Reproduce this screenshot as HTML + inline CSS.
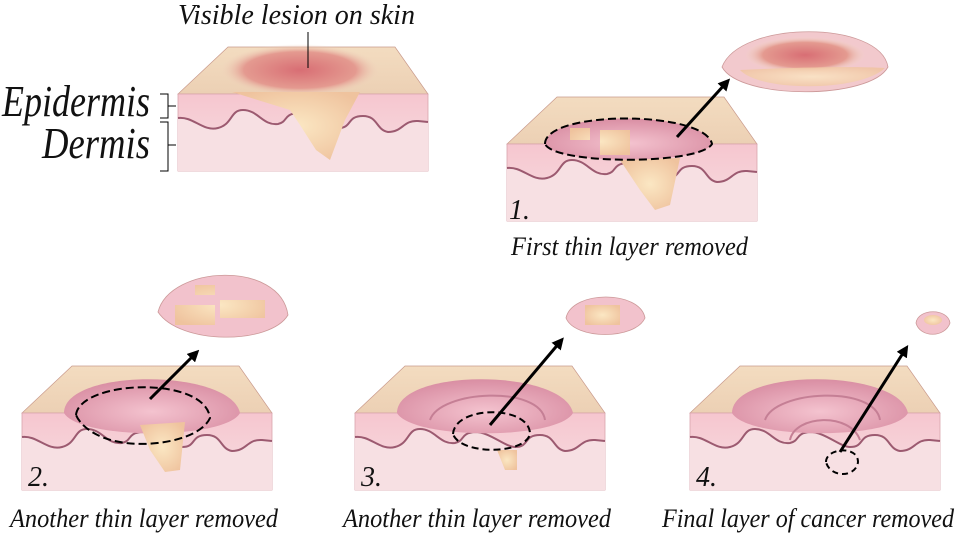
<!DOCTYPE html>
<html><head><meta charset="utf-8"><style>
html,body{margin:0;padding:0;background:#fff}
svg{display:block}
text{font-family:"Liberation Serif",serif;font-style:italic;fill:#111}
</style></head><body>
<svg width="956" height="533" viewBox="0 0 956 533" xmlns="http://www.w3.org/2000/svg">
<defs>
<linearGradient id="top" x1="0" y1="0" x2="0" y2="1"><stop offset="0" stop-color="#f3dcc0"/><stop offset="1" stop-color="#ecd0b4"/></linearGradient>
<linearGradient id="front" x1="0" y1="0" x2="0" y2="1"><stop offset="0" stop-color="#f6c6cf"/><stop offset="1" stop-color="#f6dfe2"/></linearGradient>
<radialGradient id="crater" cx="0.5" cy="0.6" r="0.6"><stop offset="0" stop-color="#f4c3cf"/><stop offset="1" stop-color="#d98ea3"/></radialGradient>
<radialGradient id="cancer" cx="0.5" cy="0.5" r="0.6"><stop offset="0" stop-color="#fbe7c3"/><stop offset="1" stop-color="#efc39e"/></radialGradient>
<radialGradient id="lesion" cx="0.5" cy="0.5" r="0.5"><stop offset="0" stop-color="#d86e74"/><stop offset="0.7" stop-color="#e49a90"/><stop offset="1" stop-color="#f0d6bf" stop-opacity="0"/></radialGradient>
<g id="block">
 <path d="M50,-47 L217,-47 L250,0 L0,0 Z" fill="url(#top)" stroke="#c99a8c" stroke-width="0.7"/>
 <rect x="0" y="0" width="250" height="77" fill="url(#front)" stroke="#d9a5ad" stroke-width="0.8"/>
 <path d="M0,24 C15,22 25,38 40,34 C55,30 52,16 65,16 C80,16 85,32 100,30 C110,28 105,20 120,19 C135,19 150,34 160,34 C175,34 168,22 185,22 C200,22 198,36 210,38 C225,38 225,26 240,27 L250,28 L250,77 L0,77 Z" fill="#f7e0e3"/>
 <path d="M0,24 C15,22 25,38 40,34 C55,30 52,16 65,16 C80,16 85,32 100,30 C110,28 105,20 120,19 C135,19 150,34 160,34 C175,34 168,22 185,22 C200,22 198,36 210,38 C225,38 225,26 240,27 L250,28" fill="none" stroke="#9c5a70" stroke-width="2"/>
</g>
<marker id="ah" markerWidth="12" markerHeight="12" refX="6" refY="6" orient="auto" markerUnits="userSpaceOnUse"><path d="M0,0 L12,6 L0,12 Z" fill="#000"/></marker>
</defs>

<!-- top block -->
<use href="#block" x="178" y="94"/>
<ellipse cx="300" cy="70" rx="80" ry="26" fill="url(#lesion)"/>
<path d="M232,92 L360,92 L345,120 L330,160 L316,150 L300,125 L290,110 Z" fill="url(#cancer)"/>
<line x1="308" y1="32" x2="308" y2="68" stroke="#000" stroke-width="1"/>
<text x="178" y="24" font-size="28" textLength="237" lengthAdjust="spacingAndGlyphs">Visible lesion on skin</text>
<text x="2" y="116" font-size="44" textLength="148" lengthAdjust="spacingAndGlyphs">Epidermis</text>
<text x="42" y="158" font-size="44" textLength="108" lengthAdjust="spacingAndGlyphs">Dermis</text>
<path d="M160,94 h8 v24 h-8 M168,106 h8" fill="none" stroke="#000" stroke-width="1"/>
<path d="M160,122 h8 v49 h-8 M168,145 h8" fill="none" stroke="#000" stroke-width="1"/>

<!-- step 1 -->
<use href="#block" x="507" y="144"/>
<path d="M545,144 C545,110 705,110 712,144 C700,165 555,165 545,144 Z" fill="url(#crater)"/>
<path d="M620,160 L680,158 L670,205 L655,210 L640,190 Z" fill="url(#cancer)"/>
<path d="M570,128 h20 v12 h-20z M600,130 h30 v25 h-30z" fill="url(#cancer)"/>
<path d="M545,144 C545,110 705,110 712,144 C700,165 555,165 545,144 Z" fill="none" stroke="#000" stroke-width="2" stroke-dasharray="8,4"/>
<line x1="677" y1="137" x2="726" y2="83" stroke="#000" stroke-width="3" marker-end="url(#ah)"/>
<path d="M722,67 C740,20 880,20 888,67 C870,100 740,100 722,67 Z" fill="#f2c9cd" stroke="#c99" stroke-width="0.8"/>
<ellipse cx="805" cy="55" rx="60" ry="18" fill="url(#lesion)"/>
<path d="M740,70 C780,68 850,66 885,68 C860,92 760,92 740,70 Z" fill="url(#cancer)" opacity="0.8"/>
<text x="509" y="219" font-size="28">1.</text>
<text x="511" y="255" font-size="26" textLength="237" lengthAdjust="spacingAndGlyphs">First thin layer removed</text>

<!-- step 2 -->
<use href="#block" x="22" y="413"/>
<path d="M64,413 C64,368 230,368 240,413 C225,440 80,440 64,413 Z" fill="url(#crater)"/>
<path d="M140,425 L185,422 L180,470 L165,472 L150,450 Z" fill="url(#cancer)"/>
<path d="M76,415 C80,380 205,375 210,418 C200,440 150,448 120,442 C95,438 80,425 76,415 Z" fill="none" stroke="#000" stroke-width="2" stroke-dasharray="8,4"/>
<line x1="150" y1="399" x2="195" y2="354" stroke="#000" stroke-width="3" marker-end="url(#ah)"/>
<path d="M158,312 C170,265 280,260 288,315 C270,345 180,345 158,312 Z" fill="#f2c2cc" stroke="#c99" stroke-width="0.8"/>
<path d="M175,305 h40 v20 h-40z M220,300 h45 v18 h-45z M195,285 h20 v10 h-20z" fill="url(#cancer)"/>
<text x="28" y="486" font-size="28">2.</text>
<text x="10" y="527" font-size="26" textLength="268" lengthAdjust="spacingAndGlyphs">Another thin layer removed</text>

<!-- step 3 -->
<use href="#block" x="355" y="413"/>
<path d="M397,413 C397,368 563,368 573,413 C558,440 413,440 397,413 Z" fill="url(#crater)"/>
<path d="M430,420 C440,390 540,385 545,420" fill="none" stroke="#c57f95" stroke-width="2"/>
<path d="M497,450 h20 v20 h-12z" fill="url(#cancer)"/>
<path d="M453,434 C455,405 530,405 530,434 C525,455 460,455 453,434 Z" fill="none" stroke="#000" stroke-width="2" stroke-dasharray="7,4"/>
<line x1="490" y1="425" x2="560" y2="342" stroke="#000" stroke-width="3" marker-end="url(#ah)"/>
<path d="M566,318 C572,290 640,290 645,318 C635,340 575,340 566,318 Z" fill="#f2c2cc" stroke="#c99" stroke-width="0.8"/>
<path d="M585,305 h35 v20 h-35z" fill="url(#cancer)"/>
<text x="361" y="486" font-size="28">3.</text>
<text x="343" y="527" font-size="26" textLength="268" lengthAdjust="spacingAndGlyphs">Another thin layer removed</text>

<!-- step 4 -->
<use href="#block" x="690" y="413"/>
<path d="M732,413 C732,368 898,368 908,413 C893,440 748,440 732,413 Z" fill="url(#crater)"/>
<path d="M765,420 C775,390 875,385 880,420" fill="none" stroke="#c57f95" stroke-width="2"/>
<path d="M790,440 C795,415 850,412 860,440" fill="none" stroke="#c57f95" stroke-width="2"/>
<path d="M826,462 C826,448 858,445 858,462 C856,478 830,478 826,462 Z" fill="none" stroke="#000" stroke-width="2" stroke-dasharray="6,4"/>
<line x1="840" y1="452" x2="905" y2="350" stroke="#000" stroke-width="3" marker-end="url(#ah)"/>
<path d="M916,323 C918,308 948,308 950,323 C945,338 920,338 916,323 Z" fill="#f2c2cc" stroke="#c99" stroke-width="0.8"/>
<ellipse cx="933" cy="320" rx="9" ry="5" fill="url(#cancer)"/>
<text x="696" y="486" font-size="28">4.</text>
<text x="662" y="527" font-size="26" textLength="292" lengthAdjust="spacingAndGlyphs">Final layer of cancer removed</text>
</svg>
</body></html>
